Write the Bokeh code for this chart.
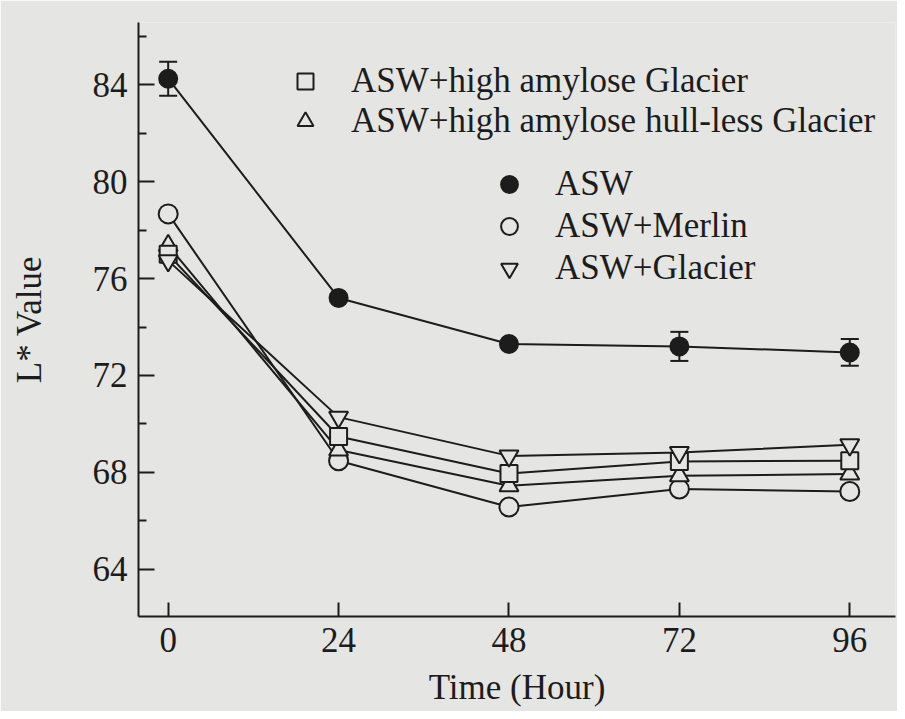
from bokeh.plotting import figure
from bokeh.models import (ColumnDataSource, Range1d, FixedTicker, Whisker, TeeHead,
                          Legend, LegendItem)
from bokeh.embed import file_html
from bokeh.resources import INLINE

# ---- data ----
hours = [0, 24, 48, 72, 96]
x_ticks = [0, 24, 48, 72, 96]
y_ticks = [64, 68, 72, 76, 80, 84]
y_minor_ticks = [62, 66, 70, 74, 78, 82, 86]

asw = [84.25, 75.2, 73.3, 73.2, 72.95]
asw_err = [0.7, 0.0, 0.0, 0.6, 0.55]
merlin = [78.67, 68.48, 66.57, 67.31, 67.21]
glacier = [76.74, 70.28, 68.68, 68.82, 69.14]
ha_glacier = [77.0, 69.48, 67.95, 68.45, 68.48]
hl_glacier = [77.36, 68.92, 67.45, 67.86, 67.93]

label_asw = "ASW"
label_merlin = "ASW+Merlin"
label_glacier = "ASW+Glacier"
label_ha = "ASW+high amylose Glacier"
label_hl = "ASW+high amylose hull-less Glacier"

# ---- style ----
BG = "#e5e5e3"
INK = "#1c1c1c"
FONT = "Liberation Serif"
FS = "35px"

p = figure(width=897, height=711, output_backend="svg", toolbar_location=None,
           x_range=Range1d(-4.18, 102.44), y_range=Range1d(62.05, 86.57),
           min_border_left=138, min_border_right=2, min_border_top=22,
           min_border_bottom=95,
           background_fill_color=BG, border_fill_color=BG, outline_line_color=None)
p.grid.visible = False

# error bars (only where present)
idx = [i for i, e in enumerate(asw_err) if e > 0]
err_src = ColumnDataSource(dict(
    x=[hours[i] for i in idx],
    upper=[asw[i] + asw_err[i] for i in idx],
    lower=[asw[i] - asw_err[i] for i in idx]))
p.add_layout(Whisker(source=err_src, base="x", upper="upper", lower="lower",
                     line_color=INK, line_width=2,
                     upper_head=TeeHead(size=18, line_color=INK, line_width=2),
                     lower_head=TeeHead(size=18, line_color=INK, line_width=2)))

series = [
    (merlin, "circle", 19, BG),
    (hl_glacier, "triangle", 19, BG),
    (ha_glacier, "square", 17, BG),
    (glacier, "inverted_triangle", 19, BG),
    (asw, "circle", 18, INK),
]
for vals, *_ in series:
    p.line(hours, vals, line_color=INK, line_width=2)
r = []
for vals, mk, sz, fill in series:
    r.append(p.scatter(hours, vals, marker=mk, size=sz, line_color=INK,
                       line_width=2, fill_color=fill))
r_merlin, r_hl, r_ha, r_glacier, r_asw = r

common = dict(spacing=0, padding=0, margin=0, border_line_color=None,
              background_fill_alpha=0, label_text_font=FONT,
              label_text_font_size=FS, label_text_color=INK)
leg1 = Legend(items=[LegendItem(label=label_ha, renderers=[r_ha]),
                     LegendItem(label=label_hl, renderers=[r_hl])],
              location=(147, 475), glyph_width=40, glyph_height=40,
              label_height=40, label_standoff=26, **common)
leg2 = Legend(items=[LegendItem(label=label_asw, renderers=[r_asw]),
                     LegendItem(label=label_merlin, renderers=[r_merlin]),
                     LegendItem(label=label_glacier, renderers=[r_glacier])],
              location=(350, 327), glyph_width=42, glyph_height=42,
              label_height=42, label_standoff=25, **common)
p.add_layout(leg1)
p.add_layout(leg2)

# axes
for ax in (p.xaxis[0], p.yaxis[0]):
    ax.axis_line_width = 2
    ax.axis_line_color = INK
    ax.major_tick_line_width = 2
    ax.major_tick_line_color = INK
    ax.minor_tick_line_width = 2
    ax.minor_tick_line_color = INK
    ax.major_label_text_font = FONT
    ax.major_label_text_font_size = FS
    ax.major_label_text_color = INK
    ax.axis_label_text_font = FONT
    ax.axis_label_text_font_size = FS
    ax.axis_label_text_font_style = "normal"
    ax.axis_label_text_color = INK
    ax.major_tick_out = 0
    ax.minor_tick_out = 0
    ax.major_label_standoff = 11

p.xaxis.ticker = FixedTicker(ticks=x_ticks)
p.xaxis.major_tick_in = 14
p.xaxis.minor_tick_line_color = None
p.xaxis.axis_label = "Time (Hour)"
p.xaxis.axis_label_standoff = 13

p.yaxis.ticker = FixedTicker(ticks=y_ticks, minor_ticks=y_minor_ticks)
p.yaxis.major_tick_in = 16
p.yaxis.minor_tick_in = 8
p.yaxis.axis_label = "L* Value"
p.yaxis.axis_label_standoff = 41

open("out.html", "w").write(file_html(p, INLINE))
